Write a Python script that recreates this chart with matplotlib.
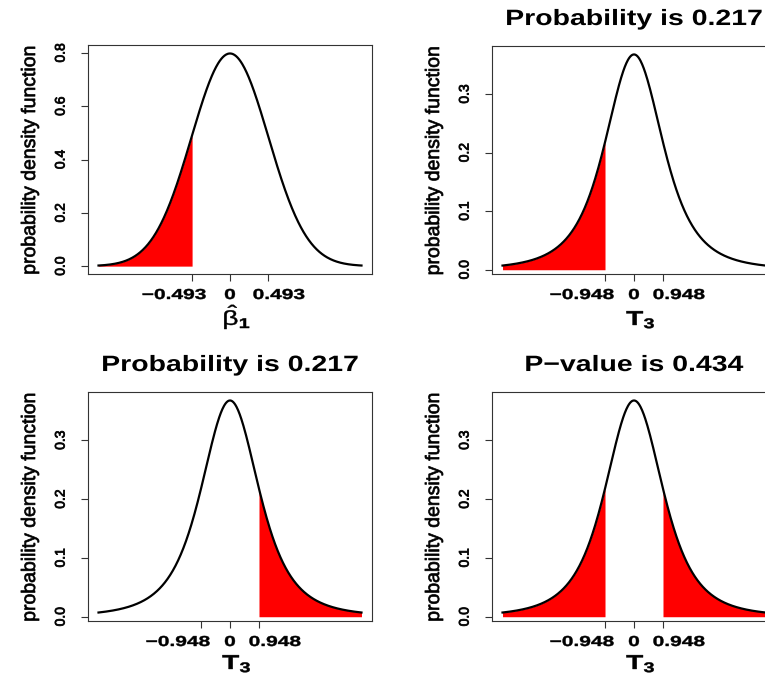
import math
import numpy as np
import matplotlib
matplotlib.use("Agg")
import matplotlib.pyplot as plt
from matplotlib.patheffects import AbstractPathEffect
from matplotlib.transforms import Affine2D, ScaledTranslation, blended_transform_factory

# values
norm_sd = 0.5          # sd of beta-hat, peak ~0.8
norm_cut = 0.493
norm_span = 1.71       # curve drawn from -1.71 to 1.71
t_df = 3
t_cut = 0.948
t_span = 4.3           # curve drawn from -4.3 to 4.3

panel_titles = ["", "Probability is 0.217", "Probability is 0.217", "P\u2212value is 0.434"]
panel_kinds = ["norm", "t", "t", "t"]
panel_shade = ["left", "left", "right", "both"]
panel_xlabels = [r"$\hat{\mathrm{\beta}}_\mathbf{1}$", r"$\mathbf{T}_\mathbf{3}$",
                 r"$\mathbf{T}_\mathbf{3}$", r"$\mathbf{T}_\mathbf{3}$"]
norm_yticks = [0.0, 0.2, 0.4, 0.6, 0.8]
t_yticks = [0.0, 0.1, 0.2, 0.3]

plt.rcParams["font.family"] = ["Liberation Sans", "DejaVu Sans"]
plt.rcParams["mathtext.fontset"] = "custom"
plt.rcParams["mathtext.rm"] = "Liberation Sans"
plt.rcParams["mathtext.bf"] = "Liberation Sans:bold"
plt.rcParams["mathtext.it"] = "Liberation Sans:italic"


class Stretch(AbstractPathEffect):
    # widen the drawn text around its own centre (the R output has wide glyphs)
    # and optionally thicken it a little with a stroke
    def __init__(self, sx=1.0, sy=1.0, lw=0.0):
        super().__init__()
        self.sx = sx
        self.sy = sy
        self.lw = lw

    def draw_path(self, renderer, gc, tpath, affine, rgbFace=None):
        bb = affine.transform_path(tpath).get_extents()
        cx = bb.x0 + bb.width / 2
        cy = bb.y0 + bb.height / 2
        tr = affine + Affine2D().translate(-cx, -cy).scale(self.sx, self.sy).translate(cx, cy)
        gc0 = renderer.new_gc()
        gc0.copy_properties(gc)
        if self.lw > 0 and rgbFace is not None:
            gc0.set_linewidth(self.lw)
            gc0.set_foreground(rgbFace)
            gc0.set_joinstyle("round")
        renderer.draw_path(gc0, tpath, tr, rgbFace)
        gc0.restore()


def norm_pdf(x, sd):
    return np.exp(-0.5 * (x / sd) ** 2) / (sd * math.sqrt(2 * math.pi))


def t_pdf(x, df):
    c = math.gamma((df + 1) / 2) / (math.sqrt(df * math.pi) * math.gamma(df / 2))
    return c * (1 + x ** 2 / df) ** (-(df + 1) / 2)


W, H = 765, 676
fig = plt.figure(figsize=(W / 100, H / 100), dpi=100)

# axes boxes in pixels: left, top, width, height
boxes = [(88, 45, 284, 229), (492, 46, 284, 228), (88, 392, 284, 229), (492, 392, 284, 229)]
xlab_offset = [51, 51, 48, 48]
# tick labels in the original sit off their ticks (pixels: negative label, positive label)
ticklab_shift = {"norm": (-18, 11), "t": (-23, 16)}

box_col = "#333333"

for i in range(4):
    l, t, w, h = boxes[i]
    ax = fig.add_axes([l / W, 1 - (t + h) / H, w / W, h / H])
    kind = panel_kinds[i]

    if kind == "norm":
        span, cut = norm_span, norm_cut
        pdf = lambda x: norm_pdf(x, norm_sd)
        yticks = norm_yticks
    else:
        span, cut = t_span, t_cut
        pdf = lambda x: t_pdf(x, t_df)
        yticks = t_yticks

    x = np.linspace(-span, span, 500)
    y = pdf(x)

    if panel_shade[i] in ("left", "both"):
        xf = np.linspace(-span, -cut, 250)
        ax.fill_between(xf, 0, pdf(xf), color="red", lw=0)
    if panel_shade[i] in ("right", "both"):
        xf = np.linspace(cut, span, 250)
        ax.fill_between(xf, 0, pdf(xf), color="red", lw=0)
    ax.plot(x, y, color="black", lw=1.6)

    # R style 4% padding
    ax.set_xlim(-1.08 * span, 1.08 * span)
    pad = 0.04 * (y.max() - y.min())
    ax.set_ylim(y.min() - pad, y.max() + pad)

    xt = [-cut, 0, cut]
    ax.set_xticks(xt)
    ax.set_xticklabels([])
    xlabs = ["\u2212%.3f" % cut, "0", "%.3f" % cut]
    dxs = [ticklab_shift[kind][0], 0, ticklab_shift[kind][1]]
    btr = blended_transform_factory(ax.transData, ax.transAxes)
    for v, s, dx in zip(xt, xlabs, dxs):
        ax.text(v, 0, s, transform=btr + ScaledTranslation(dx / 100, -14 / 100, fig.dpi_scale_trans),
                ha="center", va="top", fontsize=10.4, fontweight="bold",
                path_effects=[Stretch(1.45, lw=0.3)])

    ax.set_yticks(yticks)
    ax.set_yticklabels(["%.1f" % v for v in yticks], fontsize=10)
    for lab in ax.get_yticklabels():
        lab.set_rotation(90)
        lab.set_va("center")
        lab.set_path_effects([Stretch(1.0, lw=0.6)])

    ax.tick_params(axis="both", direction="out", length=4.7, width=0.8, color=box_col)
    ax.tick_params(axis="y", pad=10.0)
    for sp in ax.spines.values():
        sp.set_color(box_col)
        sp.set_linewidth(0.8)

    ax.set_ylabel("probability density function", fontsize=14,
                  path_effects=[Stretch(1.0, lw=0.5)])
    ax.yaxis.set_label_coords(-49 / w, 0.5)

    ax.set_xlabel(panel_xlabels[i], fontsize=14.5)
    ax.xaxis.set_label_coords(0.5 + 7 / w, -xlab_offset[i] / h)
    ax.xaxis.label.set_va("baseline")
    ax.xaxis.label.set_path_effects([Stretch(1.4, lw=0.3)])

    if panel_titles[i]:
        ttl = ax.set_title(panel_titles[i], fontsize=16, fontweight="bold", pad=15.1)
        ttl.set_path_effects([Stretch(1.28)])

fig.savefig("out.png", dpi=100)
